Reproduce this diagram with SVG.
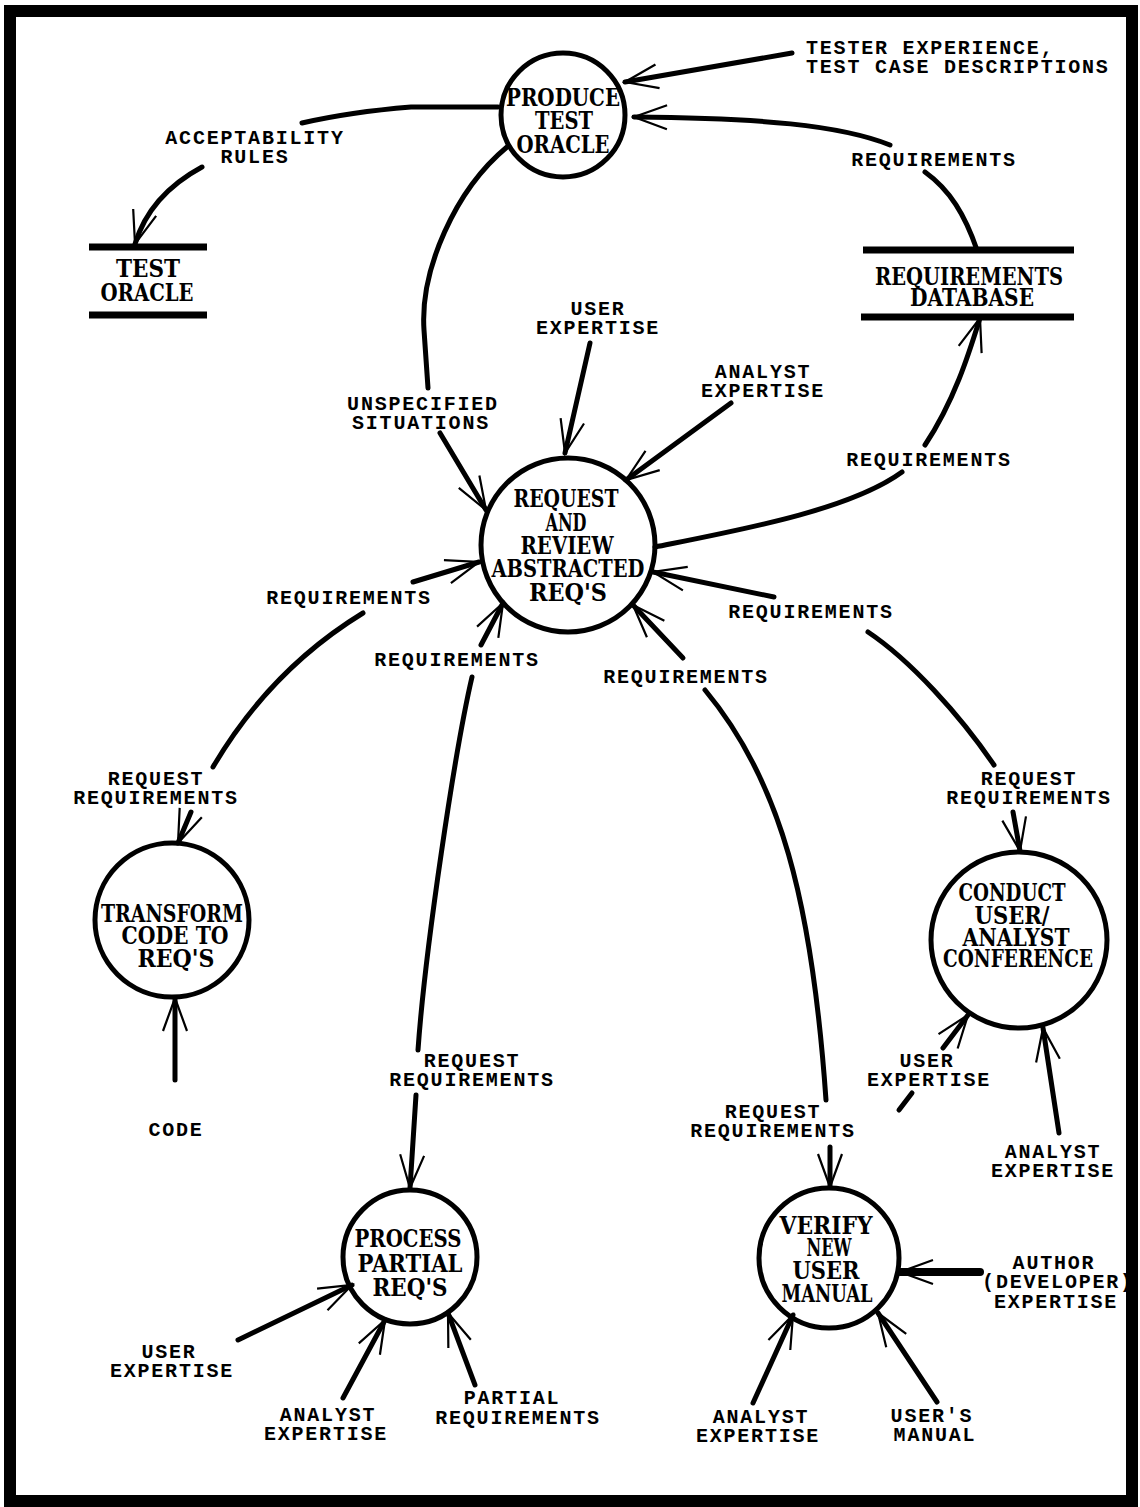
<svg xmlns="http://www.w3.org/2000/svg" width="1140" height="1507" viewBox="0 0 1140 1507">
<style>
.node{fill:none;stroke:#000;stroke-width:5}
.bar{stroke:#000;stroke-width:7}
.nt{font-family:"DejaVu Serif","Liberation Serif",serif;font-weight:bold;font-size:25px;text-anchor:middle;fill:#000}
.lb{font-family:"Liberation Mono",monospace;font-weight:bold;font-size:20px;letter-spacing:1.8px;text-anchor:middle;fill:#000}
.f{fill:none;stroke:#000;stroke-width:5;stroke-linecap:round}
.fa{fill:none;stroke:#000;stroke-width:5;stroke-linecap:round;marker-end:url(#ah)}
</style>
<defs>
<marker id="ah" markerUnits="userSpaceOnUse" markerWidth="80" markerHeight="80" viewBox="-40 -40 80 80" refX="0" refY="0" orient="auto">
<path d="M-33,-12 L0,0 L-33,12" fill="none" stroke="#000" stroke-width="2.2"/>
</marker>
</defs>
<rect x="0" y="0" width="1140" height="1507" fill="#fff"/>
<rect x="10" y="11" width="1122" height="1490" fill="none" stroke="#000" stroke-width="12"/>

<g id="produce-test-oracle">
<circle class="node" cx="563" cy="115" r="62"/>
<text class="nt" x="563" y="106" textLength="114" lengthAdjust="spacingAndGlyphs">PRODUCE</text>
<text class="nt" x="564" y="129" textLength="58" lengthAdjust="spacingAndGlyphs">TEST</text>
<text class="nt" x="563" y="153" textLength="93" lengthAdjust="spacingAndGlyphs">ORACLE</text>
</g>

<g id="test-oracle">
<line class="bar" x1="89" y1="247" x2="207" y2="247"/>
<line class="bar" x1="89" y1="315" x2="207" y2="315"/>
<text class="nt" x="148" y="277" textLength="64" lengthAdjust="spacingAndGlyphs">TEST</text>
<text class="nt" x="147" y="301" textLength="93" lengthAdjust="spacingAndGlyphs">ORACLE</text>
</g>

<g id="requirements-database">
<line class="bar" x1="863" y1="250" x2="1074" y2="250"/>
<line class="bar" x1="861" y1="317" x2="1074" y2="317"/>
<text class="nt" x="969" y="285" textLength="188" lengthAdjust="spacingAndGlyphs">REQUIREMENTS</text>
<text class="nt" x="972" y="306" textLength="124" lengthAdjust="spacingAndGlyphs">DATABASE</text>
</g>

<g id="request-review">
<circle class="node" cx="568" cy="545" r="87"/>
<text class="nt" x="566" y="507" textLength="105" lengthAdjust="spacingAndGlyphs">REQUEST</text>
<text class="nt" x="566" y="531" textLength="41" lengthAdjust="spacingAndGlyphs">AND</text>
<text class="nt" x="567" y="554" textLength="93" lengthAdjust="spacingAndGlyphs">REVIEW</text>
<text class="nt" x="568" y="577" textLength="153" lengthAdjust="spacingAndGlyphs">ABSTRACTED</text>
<text class="nt" x="568" y="601" textLength="78" lengthAdjust="spacingAndGlyphs">REQ'S</text>
</g>

<g id="transform-code">
<circle class="node" cx="172" cy="920" r="77"/>
<text class="nt" x="172" y="922" textLength="142" lengthAdjust="spacingAndGlyphs">TRANSFORM</text>
<text class="nt" x="175" y="944" textLength="107" lengthAdjust="spacingAndGlyphs">CODE TO</text>
<text class="nt" x="176" y="967" textLength="77" lengthAdjust="spacingAndGlyphs">REQ'S</text>
</g>

<g id="conduct-conference">
<circle class="node" cx="1019" cy="940" r="88"/>
<text class="nt" x="1012" y="901" textLength="107" lengthAdjust="spacingAndGlyphs">CONDUCT</text>
<text class="nt" x="1012" y="924" textLength="75" lengthAdjust="spacingAndGlyphs">USER/</text>
<text class="nt" x="1016" y="946" textLength="107" lengthAdjust="spacingAndGlyphs">ANALYST</text>
<text class="nt" x="1018" y="967" textLength="150" lengthAdjust="spacingAndGlyphs">CONFERENCE</text>
</g>

<g id="process-partial">
<circle class="node" cx="410" cy="1257" r="67"/>
<text class="nt" x="408" y="1247" textLength="107" lengthAdjust="spacingAndGlyphs">PROCESS</text>
<text class="nt" x="410" y="1272" textLength="105" lengthAdjust="spacingAndGlyphs">PARTIAL</text>
<text class="nt" x="410" y="1296" textLength="75" lengthAdjust="spacingAndGlyphs">REQ'S</text>
</g>

<g id="verify-manual">
<circle class="node" cx="829" cy="1258" r="70"/>
<text class="nt" x="826" y="1234" textLength="93" lengthAdjust="spacingAndGlyphs">VERIFY</text>
<text class="nt" x="829" y="1256" textLength="45" lengthAdjust="spacingAndGlyphs">NEW</text>
<text class="nt" x="826" y="1279" textLength="67" lengthAdjust="spacingAndGlyphs">USER</text>
<text class="nt" x="827" y="1302" textLength="91" lengthAdjust="spacingAndGlyphs">MANUAL</text>
</g>

<g id="connectors">
<path class="f" d="M498,107 L411,107 Q350,112 302,123"/>
<path class="fa" d="M202,167 Q150,195 135,244"/>
<path class="fa" d="M792,53 L625,82"/>
<path class="fa" d="M890,145 C840,125 760,118 634,117"/>
<path class="f" d="M977,250 C965,215 950,190 925,172"/>
<path class="f" d="M507,147 C455,190 420,270 424,330 L428,388"/>
<path class="fa" d="M440,433 L486,510"/>
<path class="fa" d="M590,343 L565,453"/>
<path class="fa" d="M731,403 L626,480"/>
<path class="f" d="M655,547 C740,530 850,510 902,472"/>
<path class="fa" d="M925,445 C955,400 970,350 980,318"/>
<path class="f" d="M213,767 Q270,670 363,613"/>
<path class="fa" d="M413,582 L479,562"/>
<path class="f" d="M418,1050 C425,950 455,750 472,677"/>
<path class="fa" d="M481,645 L503,603"/>
<path class="f" d="M826,1100 C812,900 780,780 705,690"/>
<path class="fa" d="M683,658 L633,605"/>
<path class="f" d="M994,765 C960,715 910,660 868,632"/>
<path class="fa" d="M774,597 L653,572"/>
<path class="fa" d="M191,812 L178,843"/>
<path class="fa" d="M175,1080 L175,998"/>
<path class="fa" d="M416,1095 L410,1188"/>
<path class="fa" d="M830,1147 L830,1187"/>
<path class="fa" d="M1013,812 L1020,851"/>
<path class="fa" d="M943,1048 L968,1015"/>
<path class="f" d="M912,1093 L899,1110"/>
<path class="fa" d="M1059,1133 L1043,1028"/>
<path class="fa" d="M238,1340 L352,1285"/>
<path class="fa" d="M343,1398 L385,1320"/>
<path class="fa" d="M475,1385 L448,1313"/>
<path class="fa" d="M980,1272 L900,1272" style="stroke-width:8"/>
<path class="fa" d="M753,1403 L793,1315"/>
<path class="fa" d="M937,1402 L878,1313"/>
</g>

<g id="labels">
<text class="lb" x="255" y="144">ACCEPTABILITY</text>
<text class="lb" x="255" y="163">RULES</text>
<text class="lb" x="806" y="54" style="text-anchor:start">TESTER EXPERIENCE,</text>
<text class="lb" x="806" y="73" style="text-anchor:start">TEST CASE DESCRIPTIONS</text>
<text class="lb" x="934" y="166">REQUIREMENTS</text>
<text class="lb" x="598" y="315">USER</text>
<text class="lb" x="598" y="334">EXPERTISE</text>
<text class="lb" x="763" y="378">ANALYST</text>
<text class="lb" x="763" y="397">EXPERTISE</text>
<text class="lb" x="423" y="410">UNSPECIFIED</text>
<text class="lb" x="421" y="429">SITUATIONS</text>
<text class="lb" x="929" y="466">REQUIREMENTS</text>
<text class="lb" x="349" y="604">REQUIREMENTS</text>
<text class="lb" x="457" y="666">REQUIREMENTS</text>
<text class="lb" x="686" y="683">REQUIREMENTS</text>
<text class="lb" x="811" y="618">REQUIREMENTS</text>
<text class="lb" x="156" y="785">REQUEST</text>
<text class="lb" x="156" y="804">REQUIREMENTS</text>
<text class="lb" x="1029" y="785">REQUEST</text>
<text class="lb" x="1029" y="804">REQUIREMENTS</text>
<text class="lb" x="472" y="1067">REQUEST</text>
<text class="lb" x="472" y="1086">REQUIREMENTS</text>
<text class="lb" x="773" y="1118">REQUEST</text>
<text class="lb" x="773" y="1137">REQUIREMENTS</text>
<text class="lb" x="176" y="1136">CODE</text>
<text class="lb" x="927" y="1067">USER</text>
<text class="lb" x="929" y="1086">EXPERTISE</text>
<text class="lb" x="1053" y="1158">ANALYST</text>
<text class="lb" x="1053" y="1177">EXPERTISE</text>
<text class="lb" x="1054" y="1269">AUTHOR</text>
<text class="lb" x="1058" y="1288">(DEVELOPER)</text>
<text class="lb" x="1056" y="1308">EXPERTISE</text>
<text class="lb" x="169" y="1358">USER</text>
<text class="lb" x="172" y="1377">EXPERTISE</text>
<text class="lb" x="328" y="1421">ANALYST</text>
<text class="lb" x="326" y="1440">EXPERTISE</text>
<text class="lb" x="512" y="1404">PARTIAL</text>
<text class="lb" x="518" y="1424">REQUIREMENTS</text>
<text class="lb" x="761" y="1423">ANALYST</text>
<text class="lb" x="758" y="1442">EXPERTISE</text>
<text class="lb" x="932" y="1422">USER'S</text>
<text class="lb" x="935" y="1441">MANUAL</text>
</g>
</svg>
